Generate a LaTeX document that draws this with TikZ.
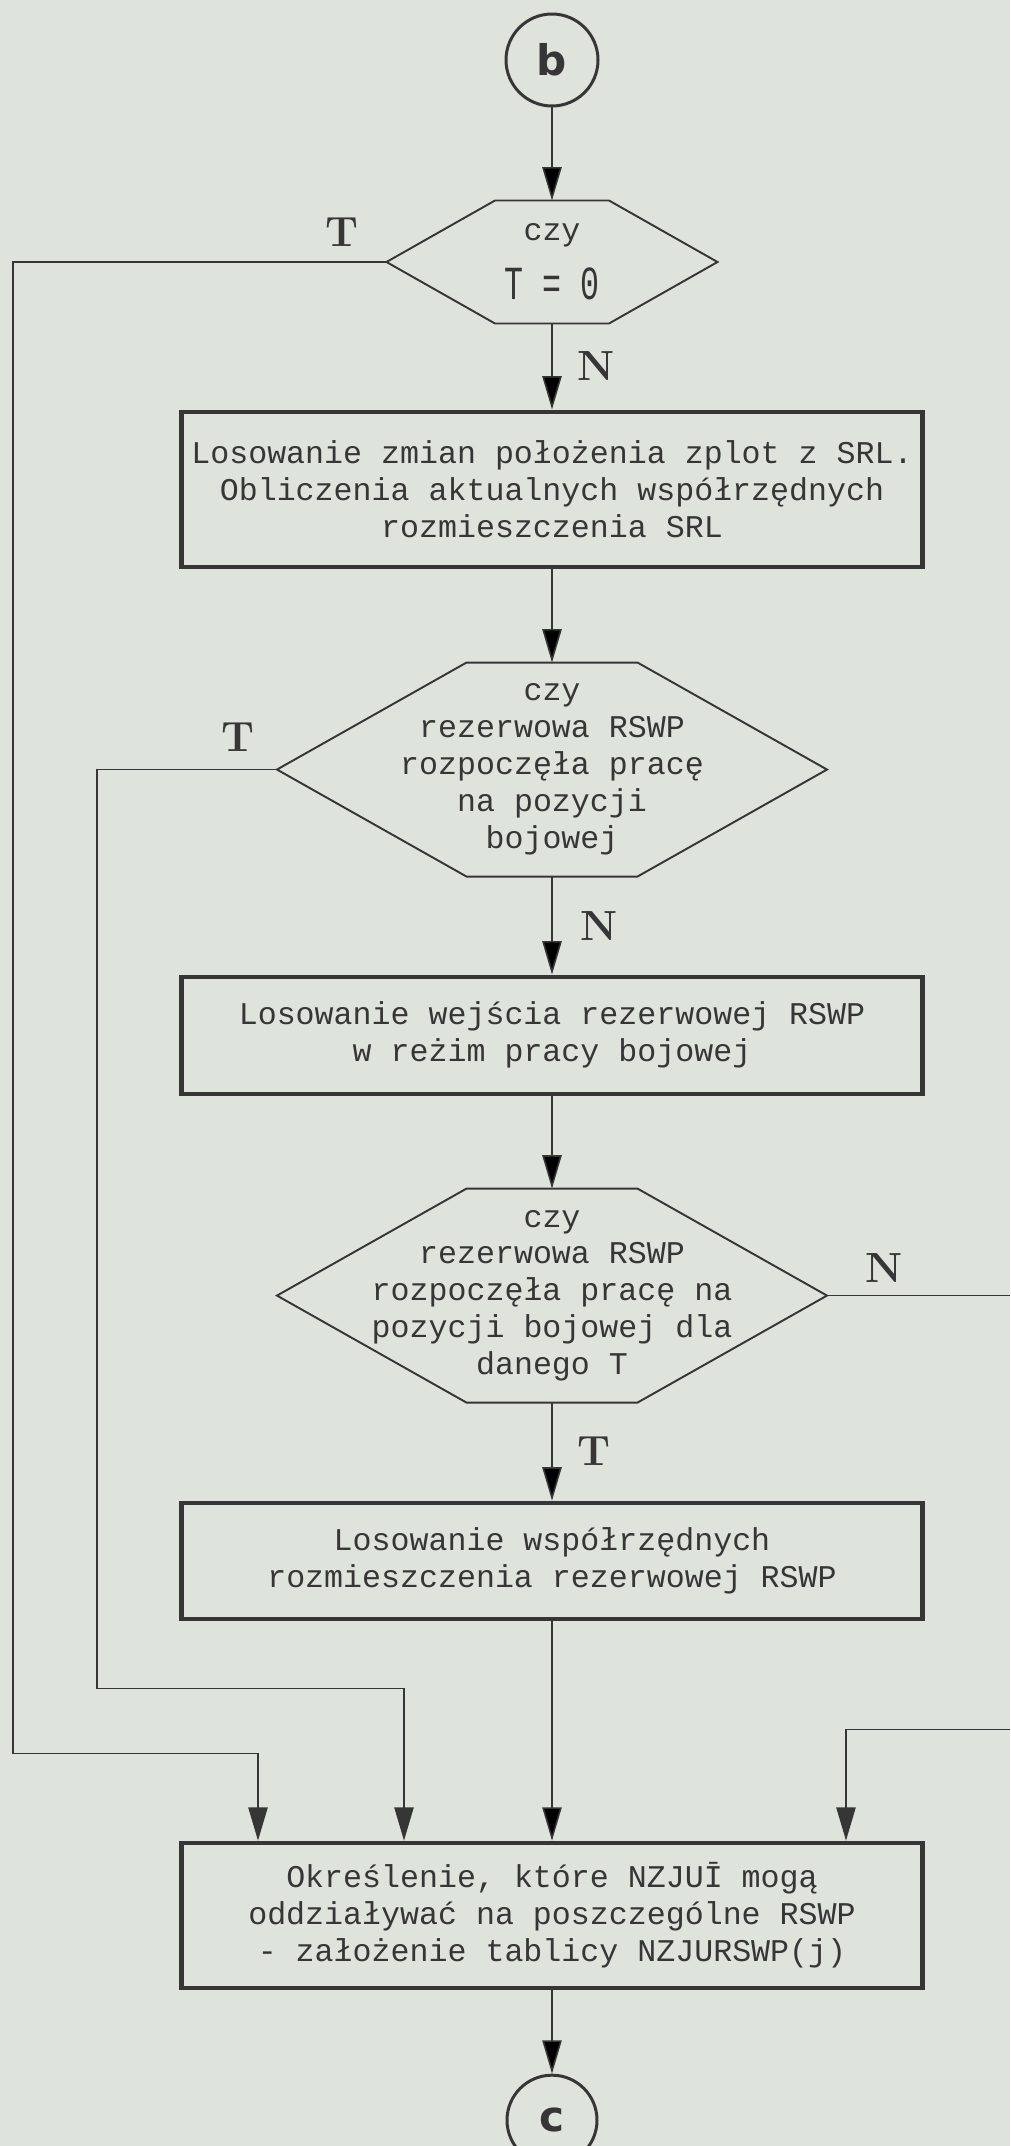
\documentclass[tikz,border=0pt]{standalone}
\usepackage{fontspec}
\setmonofont{Liberation Mono}
\newfontfamily\circfont{DejaVu Sans}
\usepackage{graphicx}
\usetikzlibrary{positioning,arrows.meta}
\definecolor{ink}{HTML}{363636}
\definecolor{paper}{HTML}{DEE3DB}

\begin{document}
\begin{tikzpicture}[>={Triangle[length=19pt,width=11pt]},
  box/.style={rectangle,draw=ink,line width=2.3pt,inner sep=0pt,minimum width=14.82cm,align=center,text=ink,font=\ttfamily\fontsize{18}{21}\selectfont},
  decision/.style={rectangle,inner sep=0pt,outer sep=0pt,align=center,text=ink,font=\ttfamily\fontsize{18}{21}\selectfont},
  connector/.style={circle,draw=ink,line width=1.7pt,inner sep=0pt,text=ink,font=\circfont\bfseries\fontsize{24}{24}\selectfont},
  lab/.style={inner sep=0pt,text=ink,font=\bfseries\fontsize{24}{24}\selectfont},
  flow/.style={draw=ink,line width=0.9pt,->},
  hexline/.style={draw=ink,line width=1.1pt}]
\useasboundingbox (0,0) rectangle (20.2,-42.92);
\fill[paper] (0,0) rectangle (20.2,-42.92);
% nodes
  \node[connector,minimum size=1.84cm] (b) at (11.04,-1.2) {b};
  \node[decision,minimum width=6.62cm,minimum height=2.46cm] (d1) [below=1.86cm of b] {czy\\[11pt]\scalebox{1}[1.5]{T = 0}};
  \node[box,minimum height=3.1cm] (k1) [below=1.72cm of d1] {Losowanie zmian położenia zplot z SRL.\\Obliczenia aktualnych współrzędnych\\rozmieszczenia SRL};
  \node[decision,minimum width=11cm,minimum height=4.28cm] (d2) [below=1.88cm of k1] {czy\\rezerwowa RSWP\\rozpoczęła pracę\\na pozycji\\bojowej};
  \node[box,minimum height=2.34cm] (k2) [below=1.96cm of d2] {Losowanie wejścia rezerwowej RSWP\\w reżim pracy bojowej};
  \node[decision,minimum width=11cm,minimum height=4.28cm] (d3) [below=1.86cm of k2] {czy\\rezerwowa RSWP\\rozpoczęła pracę na\\pozycji bojowej dla\\danego T};
  \node[box,minimum height=2.32cm] (k3) [below=1.96cm of d3] {Losowanie współrzędnych\\rozmieszczenia rezerwowej RSWP};
  \node[box,minimum height=2.9cm] (k4) [below=4.4cm of k3] {Określenie, które NZJUĪ mogą\\oddziaływać na poszczególne RSWP\\- założenie tablicy NZJURSWP(j)};
  \node[connector,minimum size=1.8cm] (c) [below=1.68cm of k4] {c};
  % hexagon outlines
  \foreach \h/\c in {d1/2.17,d2/3.79,d3/3.79}
    \draw[hexline] (\h.west) -- ([xshift=\c cm]\h.north west) -- ([xshift=-\c cm]\h.north east) -- (\h.east)
      -- ([xshift=-\c cm]\h.south east) -- ([xshift=\c cm]\h.south west) -- cycle;
  % turning points
  \coordinate (lft) at (0.26,0);
  \coordinate (mid) at (1.94,0);
  \coordinate (rgt) at (20.2,0);
  \coordinate (in1) at ([xshift=-5.88cm]k4.north);
  \coordinate (in2) at ([xshift=-2.96cm]k4.north);
  \coordinate (in4) at ([xshift=5.88cm]k4.north);
  \coordinate (c1) at ([yshift=1.74cm]in1);
  \coordinate (c2) at ([yshift=3.04cm]in2);
  \coordinate (c4) at ([yshift=2.22cm]in4);
  \coordinate (out3) at (d3.east -| rgt);
  \coordinate (back4) at (c4 -| rgt);
  % labels
  \node[lab,above left=0.3cm and 0.56cm of d1.west] (t1) {T};
  \node[lab,above left=0.36cm and 0.44cm of d2.west] (t2) {T};
  \node[lab,above right=0.26cm and 0.76cm of d3.east] (n3) {N};
  %edges
  \path[flow]
    (b) edge (d1)
    (d1) edge node[lab,right=0.5cm] (n1) {N} (k1)
    (k1) edge (d2)
    (d2) edge node[lab,right=0.55cm] (n2) {N} (k2)
    (k2) edge (d3)
    (d3) edge node[lab,right=0.5cm] (t3) {T} (k3)
    (k3) edge (k4)
    (k4) edge (c);
  \draw[flow] (d1.west) -| (lft |- c1) -| (in1);
  \draw[flow] (d2.west) -| (mid |- c2) -| (in2);
  \draw[flow,-] (d3.east) -- (out3);
  \draw[flow] (back4) -| (in4);
\end{tikzpicture}
\end{document}
